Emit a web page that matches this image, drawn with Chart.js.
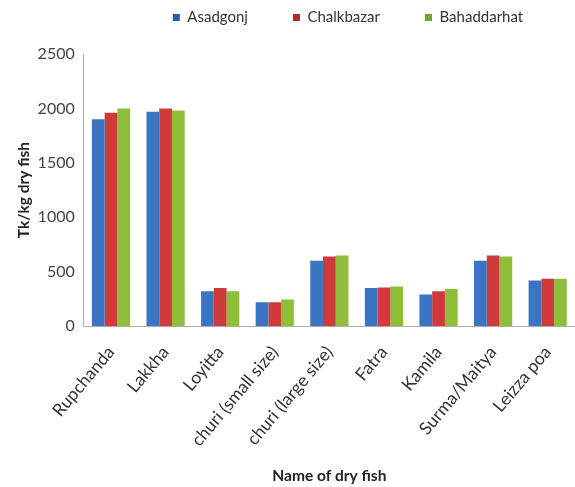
<!DOCTYPE html>
<html>
<head>
<meta charset="utf-8">
<script src="https://cdn.jsdelivr.net/npm/chart.js@4"></script>
<style>
  html, body { margin: 0; padding: 0; background: #fff; overflow: hidden; }
  #wrap { width: 575px; height: 487px; }
</style>
</head>
<body>
<div id="wrap"><canvas id="chart"></canvas></div>
<script>
const fish_names = ["Rupchanda", "Lakkha", "Loyitta", "churi (small size)", "churi (large size)",
    "Fatra", "Kamila", "Surma/Maitya", "Leizza poa"];
const asadgonj = [1900, 1970, 320, 220, 600, 350, 290, 600, 420];
const chalkbazar = [1960, 2000, 350, 220, 640, 355, 320, 650, 435];
const bahaddarhat = [2000, 1980, 320, 245, 650, 365, 340, 640, 435];
const y_ticks = [0, 500, 1000, 1500, 2000, 2500];

// cylinder-ish shading like the old excel bars
const shade = (dark, mid, light) => (ctx) => {
    const el = ctx.element;
    const c = ctx.chart.ctx;
    if (!el || el.width === undefined || !isFinite(el.x)) return mid;
    const g = c.createLinearGradient(el.x - el.width / 2, 0, el.x + el.width / 2, 0);
    g.addColorStop(0, dark);
    g.addColorStop(0.45, light);
    g.addColorStop(1, dark);
    return g;
};

// legend sits a bit higher and right of where chart.js centres it
const legend_nudge = {
    id: "legend_nudge",
    afterLayout(chart) {
        const lg = chart.legend;
        if (!lg) return;
        lg.top -= 19;
        lg.bottom -= 19;
        lg.left += 50;
        lg.right += 50;
    },
};

const font = "Lato, 'DejaVu Sans', sans-serif";

new Chart(document.getElementById("chart"), {
    type: "bar",
    data: {
        labels: fish_names,
        datasets: [
            { label: "Asadgonj", data: asadgonj, backgroundColor: shade("#2a5ea8", "#3a75c4", "#4f8ad6") },
            { label: "Chalkbazar", data: chalkbazar, backgroundColor: shade("#b02a2a", "#d03a3a", "#e04c4c") },
            { label: "Bahaddarhat", data: bahaddarhat, backgroundColor: shade("#74a52a", "#8fbf3a", "#a2d04a") },
        ],
    },
    plugins: [legend_nudge],
    options: {
        responsive: true,
        maintainAspectRatio: false,
        animation: false,
        layout: { padding: { left: 15, right: -6, top: -16, bottom: 2 } },
        datasets: { bar: { categoryPercentage: 0.7, barPercentage: 1.0 } },
        plugins: {
            tooltip: { enabled: false },
            legend: {
                position: "top",
                labels: {
                    boxWidth: 7,
                    boxHeight: 7,
                    padding: 45,
                    color: "#333",
                    font: { family: font, size: 15 },
                },
            },
        },
        scales: {
            x: {
                // let the plot run to the right edge like the original
                afterFit: (axis) => { axis.paddingLeft = -50; axis.paddingRight = -50; },
                grid: { display: false, drawTicks: false },
                border: { color: "#b0b0b0" },
                ticks: {
                    minRotation: 50,
                    maxRotation: 50,
                    padding: 16,
                    color: "#333",
                    font: { family: font, size: 17.5 },
                },
                title: {
                    display: true,
                    text: "Name of dry fish",
                    color: "#222",
                    font: { family: font, size: 15.5, weight: "bold" },
                    padding: { top: 0, bottom: 0 },
                },
            },
            y: {
                min: 0,
                max: 2500,
                afterBuildTicks: (axis) => { axis.ticks = y_ticks.map((v) => ({ value: v })); },
                grid: { display: false, drawTicks: true, tickLength: 5 },
                border: { color: "#b0b0b0" },
                ticks: {
                    padding: 4,
                    color: "#444",
                    font: { family: font, size: 16 },
                    callback: (v) => String(v),
                },
                title: {
                    display: true,
                    text: "Tk/kg dry fish",
                    color: "#222",
                    font: { family: font, size: 15.5, weight: "bold" },
                    padding: { top: 0, bottom: 0 },
                },
            },
        },
    },
});
</script>
</body>
</html>
